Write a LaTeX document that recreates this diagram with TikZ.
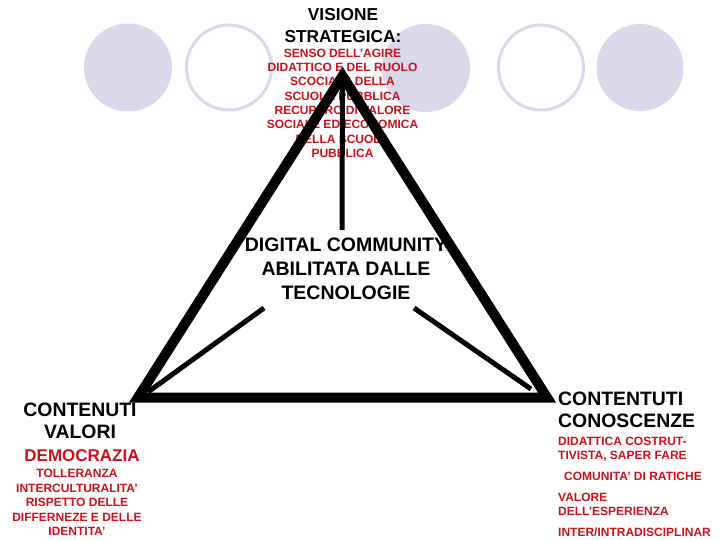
\documentclass[tikz,border=0pt]{standalone}
\usepackage{fontspec}
\setmainfont{Liberation Sans}
\definecolor{lav}{RGB}{217,217,235}
\definecolor{redtxt}{RGB}{205,16,26}
\begin{document}
\begin{tikzpicture}[x=1pt,y=-1pt,
  fillcirc/.style={fill=lav,draw=none},
  ringcirc/.style={draw=lav,line width=3pt,fill=white},
  bigtxt/.style={inner sep=0pt,font=\bfseries\fontsize{19.4}{22}\selectfont,text=black},
  headtxt/.style={inner sep=0pt,font=\bfseries\fontsize{17.3}{22}\selectfont,text=black},
  redsmall/.style={inner sep=0pt,font=\bfseries\fontsize{12}{14.3}\selectfont,text=redtxt},
  redbig/.style={inner sep=0pt,font=\bfseries\fontsize{17}{20}\selectfont,text=redtxt},
  tri/.style={line width=10pt,line join=miter,draw=black},
  link/.style={line width=5pt,draw=black}]
\useasboundingbox (0,0) rectangle (720,540);
% circles
\fill[fillcirc] (128,67.5) circle[radius=44];
\draw[ringcirc] (229,67.5) circle[radius=42.5];
\fill[fillcirc] (426,68) circle[radius=44];
\draw[ringcirc] (541,67.5) circle[radius=42.5];
\fill[fillcirc] (640,67.5) circle[radius=43.5];
% texts
\node[headtxt,anchor=north,align=center] (vis) at (343,7.8) {VISIONE\\STRATEGICA:};
\node[redsmall,anchor=north,align=center] (senso) at (342.5,48.7) {SENSO DELL’AGIRE\\DIDATTICO E DEL RUOLO\\SCOCIAI E DELLA\\SCUOLA PUBBLICA\\RECUPERO DI VALORE\\SOCIALE ED ECONOMICA\\DELLA SCUOLA\\PUBBLICA};
\node[bigtxt,font=\bfseries\fontsize{19.5}{24}\selectfont,anchor=north,align=center] (dc) at (346,238) {DIGITAL COMMUNITY\\ABILITATA DALLE\\TECNOLOGIE};
\node[bigtxt,anchor=north,align=center] (cv) at (80,403) {CONTENUTI\\VALORI};
\node[redbig,anchor=north] (demo) at (82,449.9) {DEMOCRAZIA};
\node[redsmall,font=\bfseries\fontsize{12}{14.5}\selectfont,anchor=north,align=center] (toll) at (77,469.2) {TOLLERANZA\\INTERCULTURALITA’\\RISPETTO DELLE\\DIFFERNEZE E DELLE\\IDENTITA’};
\node[bigtxt,anchor=north west,align=left] (cc) at (558,391.6) {CONTENTUTI\\CONOSCENZE};
\node[redsmall,font=\bfseries\fontsize{12}{14}\selectfont,anchor=north west,align=left] (did) at (558,437.2) {DIDATTICA COSTRUT-\\TIVISTA, SAPER FARE};
\node[redsmall,anchor=north west] (com) at (564,471.7) {COMUNITA’ DI RATICHE};
\node[redsmall,font=\bfseries\fontsize{12}{14}\selectfont,anchor=north west,align=left] (val) at (558,492.7) {VALORE\\DELL’ESPERIENZA};
\node[redsmall,anchor=north west] (inter) at (558,527.7) {INTER/INTRADISCIPLINAR};
% triangle
\coordinate (apex) at (342.5,76);
\coordinate (bl) at (138,397.5);
\coordinate (br) at (547,397.5);
\draw[tri] (apex) -- (br) -- (bl) -- cycle;
% links
\coordinate (dtop) at (342,230);
\coordinate (dl) at (264,308);
\coordinate (dr) at (414,308);
\coordinate (blin) at (148,392);
\coordinate (brin) at (531,389);
\draw[link] (dtop) -- (apex);
\draw[link] (dl) -- (blin);
\draw[link] (dr) -- (brin);
\end{tikzpicture}
\end{document}
